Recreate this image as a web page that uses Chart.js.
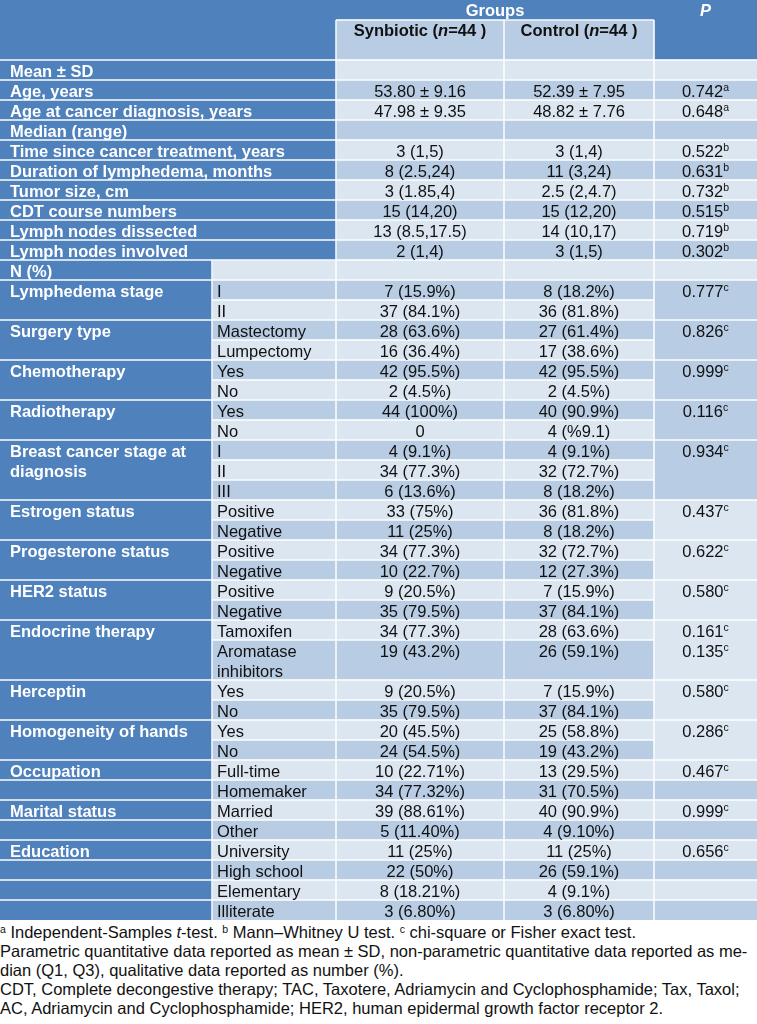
<!DOCTYPE html>
<html>
<head>
<meta charset="utf-8">
<style>
  body { margin: 0; background: #fff; width: 757px; height: 1024px; overflow: hidden; font-family: "Liberation Sans", Arial, sans-serif; }
  #wrap { position: relative; width: 757px; height: 920px; }
  .notes { font-size: 16.5px; line-height: 19px; color: #111; padding-top: 3px; white-space: nowrap; }
  .notes p { margin: 0; }
  .notes sup { font-size: 10.5px; vertical-align: top; line-height: 1; position: relative; top: 1px; }
</style>
<script src="https://cdn.jsdelivr.net/npm/chart.js@4.4.0/dist/chart.umd.min.js"></script>
</head>
<body>
<div id="wrap"><canvas id="table" width="757" height="920"></canvas></div>
<div class="notes">
  <p><sup>a</sup> Independent-Samples <i>t</i>-test. <sup>b</sup> Mann–Whitney U test. <sup>c</sup> chi-square or Fisher exact test.</p>
  <p>Parametric quantitative data reported as mean ± SD, non-parametric quantitative data reported as me-<br>dian (Q1, Q3), qualitative data reported as number (%).</p>
  <p>CDT, Complete decongestive therapy; TAC, Taxotere, Adriamycin and Cyclophosphamide; Tax, Taxol;<br>AC, Adriamycin and Cyclophosphamide; HER2, human epidermal growth factor receptor 2.</p>
</div>
<script>
// table content
var groupTitle = 'Groups';
var pTitle = 'P';
var arms = ['Synbiotic', 'Control'];
var armN = [44, 44];

var rowLabels = [
    'Mean ± SD', 'Age, years', 'Age at cancer diagnosis, years',
    'Median (range)', 'Time since cancer treatment, years', 'Duration of lymphedema, months',
    'Tumor size, cm', 'CDT course numbers', 'Lymph nodes dissected', 'Lymph nodes involved',
    'N (%)',
    'Lymphedema stage', '',
    'Surgery type', '',
    'Chemotherapy', '',
    'Radiotherapy', '',
    ['Breast cancer stage at', 'diagnosis'], '', '',
    'Estrogen status', '',
    'Progesterone status', '',
    'HER2 status', '',
    'Endocrine therapy', '',
    'Herceptin', '',
    'Homogeneity of hands', '',
    'Occupation', '',
    'Marital status', '',
    'Education', '', '', ''
];

var subLabels = [
    '', '', '', '', '', '', '', '', '', '', '',
    'I', 'II',
    'Mastectomy', 'Lumpectomy',
    'Yes', 'No',
    'Yes', 'No',
    'I', 'II', 'III',
    'Positive', 'Negative',
    'Positive', 'Negative',
    'Positive', 'Negative',
    'Tamoxifen', ['Aromatase', 'inhibitors'],
    'Yes', 'No',
    'Yes', 'No',
    'Full-time', 'Homemaker',
    'Married', 'Other',
    'University', 'High school', 'Elementary', 'Illiterate'
];

var synbiotic = [
    '', '53.80 ± 9.16', '47.98 ± 9.35',
    '', '3 (1,5)', '8 (2.5,24)', '3 (1.85,4)', '15 (14,20)', '13 (8.5,17.5)', '2 (1,4)',
    '',
    '7 (15.9%)', '37 (84.1%)',
    '28 (63.6%)', '16 (36.4%)',
    '42 (95.5%)', '2 (4.5%)',
    '44 (100%)', '0',
    '4 (9.1%)', '34 (77.3%)', '6 (13.6%)',
    '33 (75%)', '11 (25%)',
    '34 (77.3%)', '10 (22.7%)',
    '9 (20.5%)', '35 (79.5%)',
    '34 (77.3%)', '19 (43.2%)',
    '9 (20.5%)', '35 (79.5%)',
    '20 (45.5%)', '24 (54.5%)',
    '10 (22.71%)', '34 (77.32%)',
    '39 (88.61%)', '5 (11.40%)',
    '11 (25%)', '22 (50%)', '8 (18.21%)', '3 (6.80%)'
];

var control = [
    '', '52.39 ± 7.95', '48.82 ± 7.76',
    '', '3 (1,4)', '11 (3,24)', '2.5 (2,4.7)', '15 (12,20)', '14 (10,17)', '3 (1,5)',
    '',
    '8 (18.2%)', '36 (81.8%)',
    '27 (61.4%)', '17 (38.6%)',
    '42 (95.5%)', '2 (4.5%)',
    '40 (90.9%)', '4 (%9.1)',
    '4 (9.1%)', '32 (72.7%)', '8 (18.2%)',
    '36 (81.8%)', '8 (18.2%)',
    '32 (72.7%)', '12 (27.3%)',
    '7 (15.9%)', '37 (84.1%)',
    '28 (63.6%)', '26 (59.1%)',
    '7 (15.9%)', '37 (84.1%)',
    '25 (58.8%)', '19 (43.2%)',
    '13 (29.5%)', '31 (70.5%)',
    '40 (90.9%)', '4 (9.10%)',
    '11 (25%)', '26 (59.1%)', '4 (9.1%)', '3 (6.80%)'
];

var pValues = [
    '', '0.742', '0.648',
    '', '0.522', '0.631', '0.732', '0.515', '0.719', '0.302',
    '',
    '0.777', '',
    '0.826', '',
    '0.999', '',
    '0.116', '',
    '0.934', '', '',
    '0.437', '',
    '0.622', '',
    '0.580', '',
    '0.161', '0.135',
    '0.580', '',
    '0.286', '',
    '0.467', '',
    '0.999', '',
    '0.656', '', '', ''
];

var pTests = [
    '', 'a', 'a',
    '', 'b', 'b', 'b', 'b', 'b', 'b',
    '',
    'c', '', 'c', '', 'c', '', 'c', '',
    'c', '', '',
    'c', '', 'c', '', 'c', '',
    'c', 'c',
    'c', '', 'c', '',
    'c', '', 'c', '',
    'c', '', '', ''
];

// rows whose first-column and P cells are merged with the row above
var joinedRows = [12, 14, 16, 18, 20, 21, 23, 25, 27, 29, 31, 33];

// layout
var edges = [0, 212, 336, 504, 654, 757];
var DARK = '#4F81BD', MID = '#B8CCE4', LIGHT = '#DCE6F1', INK = '#111111';
var FONT = '"Liberation Sans", Arial, sans-serif';

var firstCategorical = rowLabels.indexOf('N (%)');
function isWide(i) { return i < firstCategorical; }
function isJoined(i) { return joinedRows.indexOf(i) >= 0; }
function shade(i) { return i % 2 ? MID : LIGHT; }
function groupStart(i) { while (isJoined(i)) i--; return i; }

// each row takes one band, a two line sub label takes two
var unitNames = ['h0', 'h1', 'h2'];
var unitRow = [-1, -1, -1];
var rowStart = [], rowSpan = [];
rowLabels.forEach(function(l, i) {
    var n = Array.isArray(subLabels[i]) ? subLabels[i].length : 1;
    rowStart.push(unitNames.length);
    rowSpan.push(n);
    for (var k = 0; k < n; k++) {
        unitNames.push('r' + i + '_' + k);
        unitRow.push(i);
    }
});

var labelBars = [], subBars = [], synBars = [], ctrlBars = [], pBars = [];
var labelCol = [], subCol = [], synCol = [], ctrlCol = [], pCol = [];
unitRow.forEach(function(r, u) {
    if (r < 0) {
        labelBars.push([edges[0], edges[2]]); labelCol.push(DARK);
        subBars.push(null); subCol.push(DARK);
        if (u === 0) {
            synBars.push([edges[2], edges[4]]); synCol.push(DARK);
            ctrlBars.push(null); ctrlCol.push(DARK);
        } else {
            synBars.push([edges[2], edges[3]]); synCol.push(MID);
            ctrlBars.push([edges[3], edges[4]]); ctrlCol.push(MID);
        }
        pBars.push([edges[4], edges[5]]); pCol.push(DARK);
        return;
    }
    labelBars.push([edges[0], isWide(r) ? edges[2] : edges[1]]); labelCol.push(DARK);
    subBars.push(isWide(r) ? null : [edges[1], edges[2]]); subCol.push(shade(r));
    synBars.push([edges[2], edges[3]]); synCol.push(shade(r));
    ctrlBars.push([edges[3], edges[4]]); ctrlCol.push(shade(r));
    pBars.push([edges[4], edges[5]]); pCol.push(shade(groupStart(r)));
});

function drawParts(ctx, parts, x, y, align) {
    var w = 0;
    parts.forEach(function(p) { ctx.font = p.font; w += ctx.measureText(p.t).width; });
    var cx = align === 'center' ? x - w / 2 : x;
    parts.forEach(function(p) {
        ctx.font = p.font;
        ctx.fillStyle = p.color;
        ctx.fillText(p.t, cx, y + (p.dy || 0));
        cx += ctx.measureText(p.t).width;
    });
}

var tablePlugin = {
    id: 'tableText',
    afterDatasetsDraw: function(chart) {
        var ctx = chart.ctx, xs = chart.scales.x, ys = chart.scales.y;
        var band = ys.getPixelForValue(1) - ys.getPixelForValue(0);
        var top = function(u) { return ys.getPixelForValue(u) - band / 2; };
        var px = function(v) { return xs.getPixelForValue(v); };
        ctx.save();

        // white cell borders
        ctx.strokeStyle = '#ffffff';
        ctx.lineWidth = 1.5;
        function hline(y, a, b) { ctx.beginPath(); ctx.moveTo(px(a), y); ctx.lineTo(px(b), y); ctx.stroke(); }
        function vline(x, y0, y1) { ctx.beginPath(); ctx.moveTo(px(x), y0); ctx.lineTo(px(x), y1); ctx.stroke(); }
        hline(top(1), edges[2], edges[4]);
        [2, 3, 4].forEach(function(k) { vline(edges[k], top(1), top(3)); });
        hline(top(3), edges[0], edges[5]);
        rowLabels.forEach(function(l, i) {
            var y0 = top(rowStart[i]), y1 = top(rowStart[i] + rowSpan[i]);
            [2, 3, 4].forEach(function(k) { vline(edges[k], y0, y1); });
            if (!isWide(i)) vline(edges[1], y0, y1);
            if (i < rowLabels.length - 1) {
                var j = isJoined(i + 1);
                if (!j) hline(y1, edges[0], edges[1]);
                hline(y1, edges[1], edges[4]);
                if (!j) hline(y1, edges[4], edges[5]);
            }
        });

        // texts
        var bold = 'bold 16.5px ' + FONT;
        var boldIt = 'italic bold 16.5px ' + FONT;
        var reg = '16.5px ' + FONT;
        var sup = '10.5px ' + FONT;
        ctx.textBaseline = 'alphabetic';
        drawParts(ctx, [{ t: groupTitle, font: bold, color: '#fff' }], px((edges[2] + edges[4]) / 2), top(0) + 16, 'center');
        drawParts(ctx, [{ t: pTitle, font: boldIt, color: '#fff' }], px((edges[4] + edges[5]) / 2), top(0) + 16, 'center');
        arms.forEach(function(a, k) {
            drawParts(ctx, [
                { t: a + ' (', font: bold, color: INK },
                { t: 'n', font: boldIt, color: INK },
                { t: '=' + armN[k] + ' )', font: bold, color: INK }
            ], px((edges[2 + k] + edges[3 + k]) / 2), top(1) + 15.5, 'center');
        });

        rowLabels.forEach(function(l, i) {
            var base = top(rowStart[i]) + 16.5;
            var lines = Array.isArray(l) ? l : [l];
            lines.forEach(function(t, k) {
                if (t) drawParts(ctx, [{ t: t, font: bold, color: '#fff' }], px(edges[0]) + 10, base + k * band, 'left');
            });
            var subs = Array.isArray(subLabels[i]) ? subLabels[i] : [subLabels[i]];
            subs.forEach(function(t, k) {
                if (t) drawParts(ctx, [{ t: t, font: reg, color: INK }], px(edges[1]) + 5, base + k * band, 'left');
            });
            if (synbiotic[i]) drawParts(ctx, [{ t: synbiotic[i], font: reg, color: INK }], px((edges[2] + edges[3]) / 2), base, 'center');
            if (control[i]) drawParts(ctx, [{ t: control[i], font: reg, color: INK }], px((edges[3] + edges[4]) / 2), base, 'center');
            if (pValues[i]) drawParts(ctx, [
                { t: pValues[i], font: reg, color: INK },
                { t: pTests[i], font: sup, color: INK, dy: -6 }
            ], px((edges[4] + edges[5]) / 2), base, 'center');
        });
        ctx.restore();
    }
};

function bars(label, data, colors) {
    return {
        label: label,
        data: data,
        backgroundColor: colors,
        borderWidth: 0,
        grouped: false,
        categoryPercentage: 1,
        barPercentage: 1
    };
}

var ctx = document.getElementById('table').getContext('2d');
var chart = new Chart(ctx, {
    type: 'bar',
    data: {
        labels: unitNames,
        datasets: [
            bars('label', labelBars, labelCol),
            bars('sub', subBars, subCol),
            bars('synbiotic', synBars, synCol),
            bars('control', ctrlBars, ctrlCol),
            bars('p', pBars, pCol)
        ]
    },
    options: {
        indexAxis: 'y',
        responsive: false,
        animation: false,
        layout: { padding: 0 },
        events: [],
        plugins: { legend: { display: false }, tooltip: { enabled: false } },
        scales: {
            x: { type: 'linear', min: edges[0], max: edges[5], display: false },
            y: { type: 'category', display: false, offset: true }
        }
    },
    plugins: [tablePlugin]
});
</script>
</body>
</html>
